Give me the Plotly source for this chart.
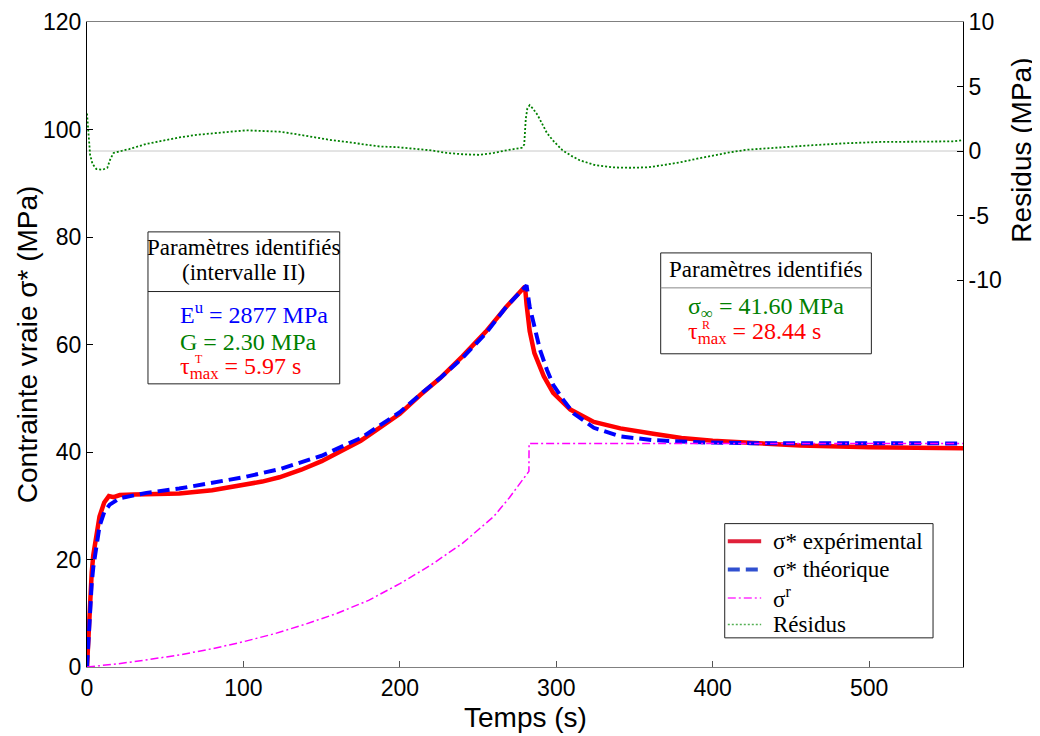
import plotly.graph_objects as go

# ---------------- data ----------------
t_exp = [0, 0.5, 1, 1.7, 3, 4, 6, 8, 11, 14, 17, 21, 30, 40, 59, 80, 100, 112, 123, 137, 150, 162, 175, 187, 200,
         213, 226, 240, 255, 268, 280,
         281, 283, 286, 292, 298, 309, 324, 341, 362, 380, 400, 424, 456, 500, 530, 560]
sig_exp = [0, 3.5, 7, 13.2, 17.5, 20.8, 25.0, 28.0, 30.6, 31.8, 31.6, 32.0, 32.1, 32.2, 32.3, 32.9, 33.8, 34.5, 35.3, 36.7, 38.3, 40.1, 42.1, 44.5, 47.1,
           50.6, 53.8, 57.8, 62.4, 67.0, 70.8,
           67.5, 62.5, 58.4, 54.1, 51.0, 47.9, 45.6, 44.4, 43.4, 42.6, 42.1, 41.7, 41.2, 40.9, 40.8, 40.7]

t_theo = [0, 0.5, 1, 2, 3, 4, 6, 8, 11, 14.5, 21, 30, 38, 59, 80, 100, 123, 150, 175, 200,
          213, 226, 240, 255, 268, 281,
          283, 285.4, 289.6, 294, 298, 304.5, 311, 324, 341, 362, 373, 392, 424, 460, 500, 560]
sig_theo = [0, 3.0, 6.0, 11.5, 15.5, 18.5, 23.0, 26.2, 28.8, 30.2, 31.4, 31.9, 32.4, 33.2, 34.2, 35.3, 36.8, 39.3, 42.6, 47.4,
            50.7, 53.8, 57.5, 62.1, 67.0, 71.0,
            67.0, 64.0, 59.0, 55.3, 52.5, 49.7, 47.2, 44.5, 42.9, 42.2, 42.0, 41.8, 41.65, 41.6, 41.6, 41.6]

t_r = [0, 20, 40, 60, 80, 100, 120, 140, 160, 180, 200, 220, 240, 260, 270, 282.5, 282.6, 560]
sig_r = [0, 0.6, 1.4, 2.3, 3.4, 4.7, 6.2, 8.0, 10.0, 12.4, 15.5, 19.0, 23.0, 28.0, 31.5, 36.4, 41.6, 41.6]

t_res = [0, 0.5, 1, 2, 3.5, 6, 10, 13, 15, 17, 22, 27, 38, 50, 59, 70, 81, 92, 102, 113, 123, 134, 145,
         156, 166, 177, 187, 198, 209, 220, 230, 240, 251, 260, 268, 275, 278,
         279.5, 280.5, 281.5, 283, 285, 288, 291, 294, 298, 304, 310, 315, 325, 336, 347, 358, 368, 379,
         390, 400, 411, 422, 443, 464, 485, 507, 530, 554, 560]
res = [2.9, 2.0, 0.8, -0.3, -1.0, -1.4, -1.45, -1.3, -0.6, -0.15, 0.0, 0.15, 0.55, 0.85, 1.05, 1.25, 1.4, 1.5, 1.6, 1.55, 1.5, 1.3, 1.05,
       0.85, 0.7, 0.5, 0.35, 0.3, 0.2, 0.05, -0.15, -0.25, -0.3, -0.15, 0.05, 0.2, 0.25,
       0.5, 2.5, 3.3, 3.55, 3.3, 2.8, 2.1, 1.4, 0.8, 0.05, -0.4, -0.72, -1.1, -1.27, -1.3, -1.27, -1.1, -0.88,
       -0.6, -0.35, -0.1, 0.1, 0.3, 0.45, 0.6, 0.7, 0.72, 0.75, 0.85]

x_ticks = [0, 100, 200, 300, 400, 500]
y_ticks = [0, 20, 40, 60, 80, 100, 120]
y2_ticks = [-10, -5, 0, 5, 10]
y2_ticktext = ["-10", "-5", "0", "5", "10"]

series_names = ["σ* expérimental", "σ* théorique", "σ<sup>r</sup>", "Résidus"]

SANS = "Liberation Sans"
SERIF = "Liberation Serif"

RED, BLUE, MAG, GREEN = "#ff0000", "#0000ff", "#ff00ff", "#008000"
DASH_B, DASH_M, DASH_G = "12px,6px", "8px,3px,2px,3px", "2px,2px"

fig = go.Figure()
fig.add_trace(go.Scatter(x=t_exp, y=sig_exp, mode="lines", name=series_names[0],
                         line=dict(color=RED, width=4.5)))
fig.add_trace(go.Scatter(x=t_theo, y=sig_theo, mode="lines", name=series_names[1],
                         line=dict(color=BLUE, width=4, dash=DASH_B)))
fig.add_trace(go.Scatter(x=t_r, y=sig_r, mode="lines", name=series_names[2],
                         line=dict(color=MAG, width=1.5, dash=DASH_M)))
fig.add_trace(go.Scatter(x=t_res, y=res, mode="lines", name=series_names[3], yaxis="y2",
                         line=dict(color=GREEN, width=1.8, dash=DASH_G)))

axis_font = dict(family=SANS, size=23, color="black")
title_font = dict(family=SANS, size=28, color="black")

# page body has an 8px offset in the browser; compensate so the plot area
# lands at x 87..963, y 22..667 of the window
fig.update_layout(
    width=1032, height=728,
    margin=dict(l=79.3, r=76.7, t=13.9, b=68.5, autoexpand=False),
    paper_bgcolor="white", plot_bgcolor="white",
    showlegend=False,
    xaxis=dict(range=[0, 560], tickvals=x_ticks, ticks="inside", ticklen=6, tickcolor="#555",
               showline=True, linecolor="#808080", linewidth=1, mirror=True,
               showgrid=False, zeroline=False, tickfont=axis_font, automargin=False),
    yaxis=dict(range=[0, 120], tickvals=y_ticks, ticks="inside", ticklen=6, tickcolor="black",
               showline=True, linecolor="black", linewidth=1, mirror=True,
               showgrid=False, zeroline=False, tickfont=axis_font, automargin=False),
    yaxis2=dict(range=[-40, 10], tickvals=y2_ticks, ticktext=y2_ticktext, overlaying="y", side="right",
                ticks="inside", ticklen=6, tickcolor="black",
                showline=True, linecolor="black", linewidth=1,
                showgrid=False, zeroline=False, tickfont=axis_font, automargin=False),
)

# axis titles
fig.add_annotation(x=0.5, y=-0.078, xref="paper", yref="paper", text="Temps (s)", showarrow=False,
                   xanchor="center", yanchor="middle", font=title_font)
fig.add_annotation(x=-0.0677, y=0.5, xref="paper", yref="paper", text="Contrainte vraie σ* (MPa)",
                   showarrow=False, textangle=-90, xanchor="center", yanchor="middle", font=title_font)
fig.add_annotation(x=1.067, y=0.8016, xref="paper", yref="paper", text="Residus (MPa)",
                   showarrow=False, textangle=-90, xanchor="center", yanchor="middle", font=title_font)

# residual zero reference line
fig.add_shape(type="line", xref="paper", x0=0, x1=1, yref="y2", y0=0, y1=0,
              line=dict(color="#c8c8c8", width=1), layer="below")

# parameter boxes
def box(x0, x1, y0, y1, ysep, sepcolor):
    fig.add_shape(type="rect", xref="paper", yref="paper", x0=x0, x1=x1, y0=y0, y1=y1,
                  line=dict(color="#222", width=1), fillcolor="white", layer="above")
    if ysep is not None:
        fig.add_shape(type="line", xref="paper", yref="paper", x0=x0, x1=x1, y0=ysep, y1=ysep,
                      line=dict(color=sepcolor, width=1), layer="above")

box(0.0696, 0.2885, 0.4390, 0.6746, 0.5821, "#222")
box(0.6549, 0.8954, 0.4856, 0.6420, 0.5878, "#888")

def txt(x, y, s, color, size=23, anchor="center"):
    fig.add_annotation(x=x, y=y, xref="paper", yref="paper", text=s, showarrow=False,
                       xanchor=anchor, yanchor="middle",
                       font=dict(family=SERIF, size=size, color=color))

txt(0.1790, 0.6498, "Paramètres identifiés", "black")
txt(0.1790, 0.6111, "(intervalle II)", "black")
txt(0.1035, 0.5491, "E<sup>u</sup> = 2877 MPa", BLUE, 24, "left")
txt(0.1035, 0.5042, "G = 2.30 MPa", GREEN, 24, "left")
txt(0.1035, 0.4639, "τ<sub>max</sub> = 5.97 s", RED, 24, "left")
txt(0.1215, 0.4770, "T", RED, 12, "left")   # superscript stacked above "max"

txt(0.7752, 0.6157, "Paramètres identifiés", "black")
txt(0.6842, 0.5569, "σ<sub>∞</sub> = 41.60 MPa", GREEN, 24, "left")
txt(0.6842, 0.5182, "τ<sub>max</sub> = 28.44 s", RED, 24, "left")
txt(0.6995, 0.5300, "R", RED, 12, "left")   # superscript stacked above "max"

# legend (drawn as a framed key)
box(0.7280, 0.9658, 0.0452, 0.2223, None, None)
leg_rows = [0.1948, 0.1510, 0.1071, 0.0658]
leg_style = [("#e0203a", 4, "solid"), ("#3050d0", 4, DASH_B), ("#ff33ff", 1.5, DASH_M), ("#55b055", 1.5, DASH_G)]
for yy, name, (col, w, d) in zip(leg_rows, series_names, leg_style):
    fig.add_shape(type="line", xref="paper", yref="paper", x0=0.7315, x1=0.7696, y0=yy, y1=yy,
                  line=dict(color=col, width=w, dash=d), layer="above")
    txt(0.7813, yy, name, "black", 23, "left")

fig.write_html("out.html")
